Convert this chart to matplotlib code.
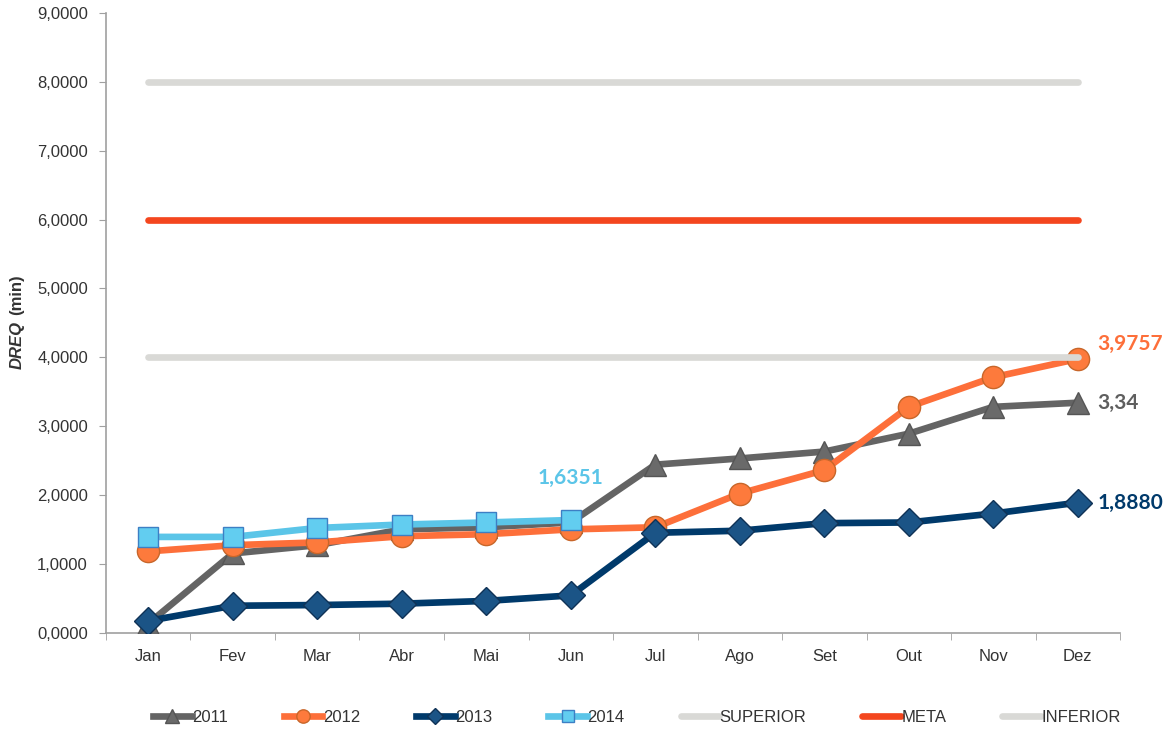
import matplotlib.pyplot as plt
from matplotlib.ticker import FuncFormatter, FixedLocator

plt.rcParams['font.family'] = ['Liberation Sans', 'DejaVu Sans']

# Data
months = ['Jan', 'Fev', 'Mar', 'Abr', 'Mai', 'Jun', 'Jul', 'Ago', 'Set', 'Out', 'Nov', 'Dez']
y2011 = [0.13, 1.15, 1.27, 1.50, 1.53, 1.60, 2.44, 2.53, 2.63, 2.89, 3.28, 3.34]
y2012 = [1.18, 1.27, 1.31, 1.40, 1.43, 1.50, 1.53, 2.02, 2.36, 3.28, 3.71, 3.9757]
y2013 = [0.17, 0.39, 0.40, 0.42, 0.46, 0.54, 1.45, 1.48, 1.59, 1.60, 1.73, 1.8880]
y2014 = [1.39, 1.39, 1.52, 1.57, 1.60, 1.6351]
superior = [8.0] * 12
meta = [6.0] * 12
inferior = [4.0] * 12

x = list(range(len(months)))

fig = plt.figure(figsize=(11.71, 7.33), dpi=100)
ax = fig.add_axes([0.0905, 0.137, 0.866, 0.845])

lw = 4.8
ax.plot(x, superior, color='#d9d9d6', lw=lw, solid_capstyle='round', label='SUPERIOR', zorder=2)
ax.plot(x, meta, color='#f4461e', lw=lw, solid_capstyle='round', label='META', zorder=2)
ax.plot(x, inferior, color='#d9d9d6', lw=lw, solid_capstyle='round', label='INFERIOR', zorder=5)

ax.plot(x, y2011, color='#646464', lw=lw, marker='^', ms=16,
        mfc='#6a6a6a', mec='#555555', label='2011', zorder=3)
ax.plot(x, y2012, color='#fd6f3a', lw=lw, marker='o', ms=16,
        mfc='#fd7a3c', mec='#c8662a', label='2012', zorder=3)
ax.plot(x, y2013, color='#003a6b', lw=lw, marker='D', ms=14,
        mfc='#1b5486', mec='#0f3256', label='2013', zorder=4)
ax.plot(x[:len(y2014)], y2014, color='#5bc5e8', lw=lw, marker='s', ms=15,
        mfc='#62cdf0', mec='#3d7fc4', label='2014', zorder=4)

# Data labels
lab_font = dict(family=['Lato', 'DejaVu Sans'], fontweight='bold', fontsize=15)
ax.annotate('1,6351', (5, y2014[-1]), xytext=(0, 30), textcoords='offset points',
            ha='center', va='center', color='#5bc5e8', **lab_font)
ax.annotate('3,9757', (11, y2012[-1]), xytext=(14, 11), textcoords='offset points',
            ha='left', va='center', color='#fd6f3a', **lab_font)
ax.annotate('3,34', (11, y2011[-1]), xytext=(14, 0), textcoords='offset points',
            ha='left', va='center', color='#5f5f5f', **lab_font)
ax.annotate('1,8880', (11, y2013[-1]), xytext=(14, 0), textcoords='offset points',
            ha='left', va='center', color='#003a6b', **lab_font)

# Axes
ax.set_xlim(-0.5, 11.5)
ax.set_ylim(0, 9)
ax.set_yticks(range(0, 10))
ax.yaxis.set_major_formatter(FuncFormatter(lambda v, p: f'{v:.4f}'.replace('.', ',')))
ax.set_xticks(x)
ax.set_xticklabels(months)
ax.xaxis.set_minor_locator(FixedLocator([i - 0.5 for i in range(13)]))
ax.tick_params(axis='x', which='major', length=0, pad=12)
ax.tick_params(axis='x', which='minor', length=5, color='#a0a0a0')
ax.tick_params(axis='y', length=5, color='#a0a0a0', pad=8)
ax.tick_params(labelsize=12, labelcolor='#333333')
for s in ['top', 'right']:
    ax.spines[s].set_visible(False)
for s in ['left', 'bottom']:
    ax.spines[s].set_color('#a0a0a0')
    ax.spines[s].set_linewidth(1.2)

# Y label (DREQ italic bold, (min) bold)
fig.text(0.0145, 0.529, 'DREQ', rotation=90, ha='center', va='center',
         fontweight='bold', fontstyle='italic', fontsize=12, color='#333333')
fig.text(0.0145, 0.598, '(min)', rotation=90, ha='center', va='center',
         fontweight='bold', fontsize=12, color='#333333')

handles, labels = ax.get_legend_handles_labels()
order = ['2011', '2012', '2013', '2014', 'SUPERIOR', 'META', 'INFERIOR']
hmap = dict(zip(labels, handles))
fig.legend([hmap[k] for k in order], order, loc='lower center', ncol=7,
           bbox_to_anchor=(0.544, -0.01), frameon=False, fontsize=12,
           handlelength=2.3, handletextpad=0.05, columnspacing=3.35, markerscale=0.6,
           labelcolor='#333333')

fig.savefig('out.png', dpi=100)
